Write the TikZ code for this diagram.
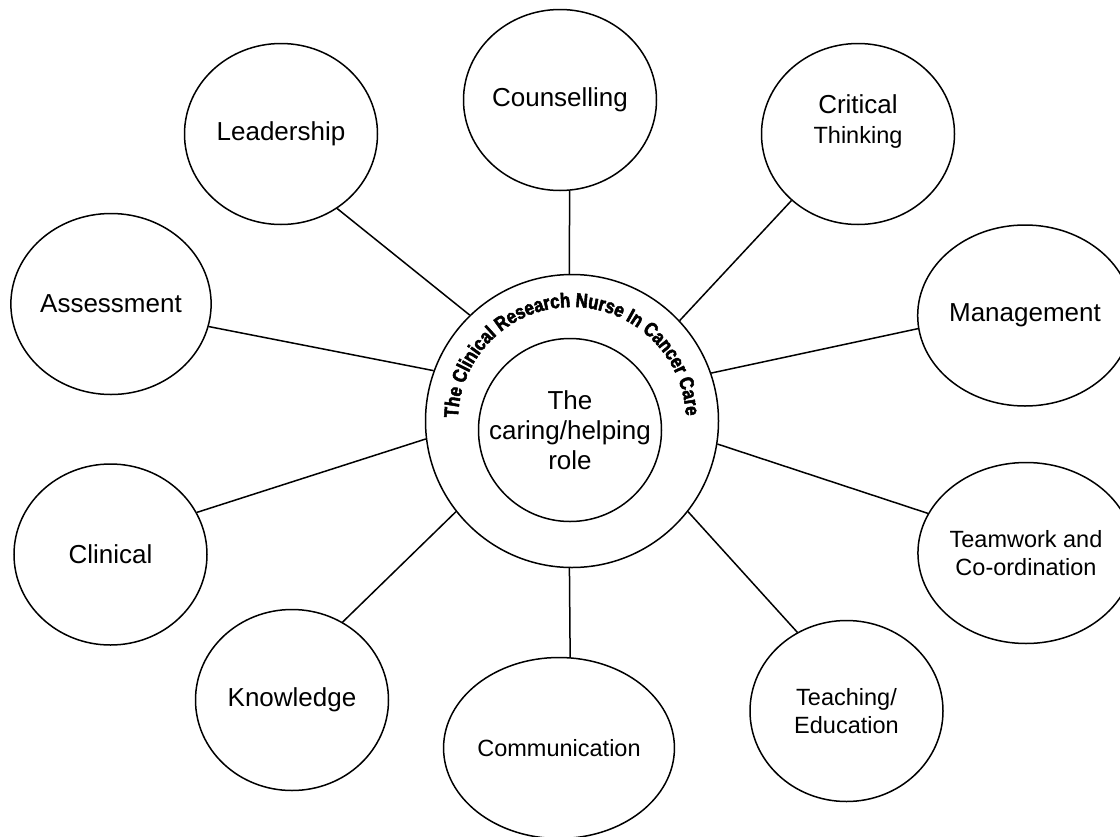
\documentclass[tikz,border=0pt]{standalone}
\usepackage{fontspec}
\setmainfont{Liberation Sans}
\newfontfamily\ringfamily[FakeStretch=0.84,FakeBold=2.5]{Liberation Sans Bold}
\usetikzlibrary{shapes.geometric}
\usetikzlibrary{decorations.text}
\newcommand{\bigtxt}{\fontsize{26}{30}\selectfont}
\newcommand{\smalltxt}{\fontsize{23.5}{27.5}\selectfont}
\newcommand{\ringtxt}{\ringfamily\fontsize{20}{20}\selectfont}

\begin{document}
\begin{tikzpicture}[x=1pt,y=1pt,
  bubble/.style={ellipse,draw,line width=1.5pt,minimum width=193pt,minimum height=181pt,
    inner sep=0pt,align=center,font=\bigtxt},
  hubring/.style={circle,draw,line width=1.5pt,inner sep=0pt,align=center,font=\bigtxt},
  spoke/.style={line width=1.5pt}]
  \fill[white] (0,-836) rectangle (1120,0);
  \useasboundingbox (0,-836) rectangle (1120,0);

  %centre
  \node[hubring,minimum size=293pt] (ring) at (572,-421) {};
  \node[hubring,minimum size=183pt] (role) at (570,-430) {The\\caring/helping\\role};
  \path[decorate,decoration={text along path,text align=center,
      text={|\ringtxt|The Clinical Research Nurse In Cancer Care}}]
    ([shift={(183:114)}]ring.center) arc[start angle=183,end angle=-2,radius=114];

  %top row
  \node[bubble] (couns) at (560,-100) {Counselling};
  \node[bubble] (lead) at (281,-134) {Leadership};
  \node[bubble] (crit) at (858,-134) {Critical\\{\smalltxt Thinking}\\~};

  %sides
  \node[bubble] (assess) at (111,-304) {Assessment};
  \node[bubble] (manage) at (1025,-315.5) {Management};
  \node[bubble] (clin) at (110.5,-554.5) {Clinical};
  \node[bubble,font=\smalltxt] (team) at (1026,-553) {Teamwork and\\Co-ordination};

  %bottom row
  \node[bubble] (know) at (292,-700) {Knowledge};
  \node[bubble,font=\smalltxt] (comm) at (559,-748) {Communication};
  \node[bubble,font=\smalltxt] (teach) at (846.5,-711) {Teaching/\\Education};

  %spokes
  \foreach \from/\to in {couns.-84/ring.91, lead.-53/ring.134, crit.-135/ring.43,
      assess.-13/ring.160, manage.-173/ring.19, clin.26/ring.187, know.57/ring.218,
      comm.83/ring.-91, teach.122/ring.-38, team.158/ring.-9}
    \draw[spoke] (\from) -- (\to);
\end{tikzpicture}
\end{document}
